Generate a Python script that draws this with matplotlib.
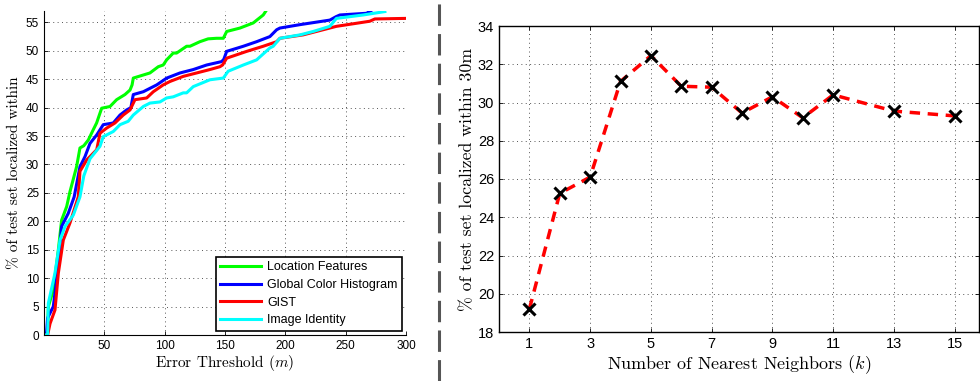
import matplotlib
matplotlib.use('Agg')
import matplotlib.pyplot as plt
from matplotlib.lines import Line2D

plt.rcParams['font.family'] = ['Liberation Sans', 'DejaVu Sans']
plt.rcParams['mathtext.fontset'] = 'cm'

# left panel: cumulative localization curves
loc_x = [0, 3, 3.6, 7.7, 11.9, 14.6, 18.8, 21.5, 27, 29.8, 33, 36.7, 40.8, 43.6, 47.8,
         54.7, 60.2, 67.1, 71.3, 73, 74, 87.8, 94.7, 98.8, 101.6, 107.1, 109.9, 118.2,
         121, 129.2, 136, 143, 148.6, 151.4, 162.4, 173.4, 181.7, 184.5]
loc_y = [0, 0.5, 5, 7.9, 15, 20.2, 22.6, 25.2, 29.6, 32.9, 33.3, 34.3, 36.1, 37.3, 39.9,
         40.2, 41.4, 42.3, 43.1, 44, 45.2, 46.1, 47.2, 47.5, 48.4, 49.6, 49.6, 50.8,
         50.8, 51.6, 52.1, 52.2, 52.2, 53.4, 54, 54.9, 56.3, 57.2]

gch_x = [0, 2, 3, 7.7, 10, 11.9, 14.6, 20.1, 25, 29.8, 34, 38.1, 43.7, 49.1, 57.4, 63,
         68.5, 72, 74, 82.3, 93.4, 101.7, 112.7, 123.7, 134.8, 147.2, 149, 151.4, 165.2,
         176.2, 187.2, 192.8, 195.5, 212.1, 236.9, 242, 245.2, 267.3, 272]
gch_y = [0, 0, 3, 5, 9, 12.6, 19.1, 21.4, 24.3, 29.6, 31.4, 33.7, 35.2, 37, 37.3, 38.7,
         39.6, 40, 42.3, 42.8, 44, 45.2, 46.1, 46.7, 47.5, 48.1, 48.5, 49.9, 50.8,
         51.6, 52.5, 53.7, 54, 54.6, 55.4, 56, 56.3, 56.6, 57.2]

gist_x = [0, 3, 5, 9.1, 11.9, 16, 21.5, 28.4, 29.8, 35.4, 43.7, 46.4, 51.9, 58.8, 65.7,
          71.3, 75.4, 85.1, 90.6, 98.8, 104.4, 115.4, 126.5, 137.5, 145.8, 148, 151.4,
          168, 181.7, 192.8, 195.5, 214.8, 242.3, 270, 274.2, 300]
gist_y = [0, 0, 2, 4.4, 10.9, 16.7, 19.7, 24.3, 28.8, 30.8, 32.6, 35.5, 36.4, 37.3, 38.7,
          39.6, 41.4, 41.7, 42.8, 44, 44.6, 45.5, 46.1, 46.7, 47.2, 47.5, 48.7,
          49.9, 50.8, 51.6, 52.2, 52.8, 54.3, 55.2, 55.6, 55.7]

iid_x = [0, 3, 3.6, 9.1, 13.3, 17.4, 24.3, 29.8, 33, 38.1, 46.4, 49.1, 57.4, 63, 69.8,
         74, 82.3, 87.8, 96.1, 101.6, 107.1, 115.4, 118.2, 123.7, 137.5, 148.6, 152.6,
         165.2, 176.2, 187.2, 190, 195.5, 212.1, 223.1, 236.9, 242.3, 264.5, 282.5]
iid_y = [0, 0, 5.6, 10.9, 16.7, 19.1, 21.1, 24.3, 28, 31, 33.2, 34.9, 35.8, 37, 37.6,
         38.7, 40.2, 40.8, 41, 41.7, 41.9, 42.6, 42.6, 43.7, 44.9, 45.2, 46.4,
         47.5, 48.4, 50.5, 50.8, 52.2, 52.8, 53.4, 54.3, 55.7, 56.3, 56.9]

series = [
    ('Location Features', loc_x, loc_y, '#00ff00'),
    ('Global Color Histogram', gch_x, gch_y, '#0000ff'),
    ('GIST', gist_x, gist_y, '#ff0000'),
    ('Image Identity', iid_x, iid_y, '#00ffff'),
]

# right panel: accuracy vs k
k_vals = [1, 2, 3, 4, 5, 6, 7, 8, 9, 10, 11, 13, 15]
acc_30m = [19.2, 25.25, 26.1, 31.1, 32.45, 30.85, 30.8, 29.45, 30.3, 29.2, 30.4, 29.55, 29.3]

W, H = 980, 381
fig = plt.figure(figsize=(W / 100, H / 100), dpi=100)

grid_kw = dict(linestyle=(0, (1, 3.5)), color='#555555', linewidth=0.7)

# ---- left
ax1 = fig.add_axes([44 / W, (H - 335) / H, (406 - 44) / W, (335 - 11) / H])
for name, xs, ys, c in series:
    ax1.plot(xs, ys, color=c, lw=2.2, label=name)
ax1.set_xlim(0, 300)
ax1.set_ylim(0, 57)
ax1.set_xticks([50, 100, 150, 200, 250, 300])
ax1.set_yticks(range(0, 56, 5))
ax1.tick_params(direction='in', labelsize=8.5, length=3, width=0.6)
ax1.spines['top'].set_visible(False)
ax1.spines['right'].set_visible(False)
ax1.grid(True, **grid_kw)
ax1.set_xlabel(r'Error Threshold $(m)$', family='cmr10', fontsize=11, labelpad=1)
ax1.set_ylabel('% of test set localized within', family='cmr10', fontsize=11, labelpad=3)
leg = ax1.legend(loc='lower right', fontsize=9, fancybox=False, edgecolor='black',
                 framealpha=1, handlelength=3.3, borderpad=0.35, labelspacing=0.45,
                 handletextpad=0.45, borderaxespad=0.35)
leg.get_frame().set_linewidth(1.2)

# ---- right
ax2 = fig.add_axes([499 / W, (H - 332) / H, (979 - 499) / W, (332 - 26) / H])
ax2.plot(k_vals, acc_30m, color='red', lw=2.5, dashes=(3, 2.2))
ax2.plot(k_vals, acc_30m, linestyle='none', marker='x', ms=8, mew=2.2, color='black')
ax2.set_xlim(0, 15.8)
ax2.set_ylim(18, 34)
ax2.set_xticks([1, 3, 5, 7, 9, 11, 13, 15])
ax2.set_yticks(range(18, 35, 2))
ax2.tick_params(direction='in', labelsize=10.5, length=3, width=0.6, top=True, right=True)
for s in ax2.spines.values():
    s.set_linewidth(1.0)
ax2.grid(True, **grid_kw)
ax2.set_xlabel(r'Number of Nearest Neighbors $(k)$', family='cmr10', fontsize=13, labelpad=2)
ax2.set_ylabel('% of test set localized within 30m', family='cmr10', fontsize=12.8, labelpad=2)

# dashed separator between panels
fig.add_artist(Line2D([439 / W, 439 / W], [0, 1], transform=fig.transFigure,
                      color='#555555', lw=2.2, linestyle=(0, (7, 2.7))))

fig.savefig('out.png', dpi=100)
